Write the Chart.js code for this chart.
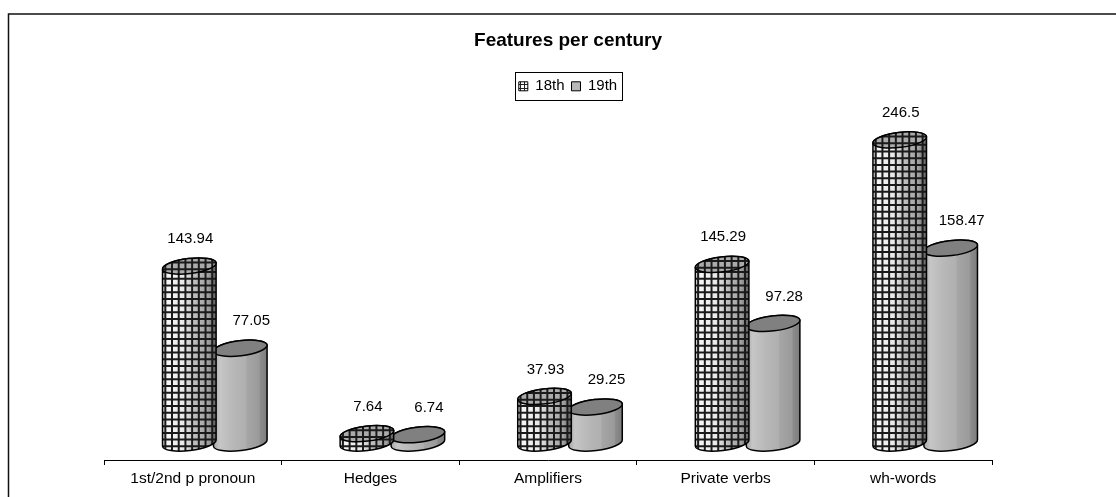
<!DOCTYPE html>
<html>
<head>
<meta charset="utf-8">
<style>
html, body { margin: 0; padding: 0; background: #fff; }
#wrap { width: 1116px; height: 497px; }
</style>
<script src="https://cdn.jsdelivr.net/npm/chart.js@4"></script>
</head>
<body>
<div id="wrap"><canvas id="features-chart"></canvas></div>
<script>
var categories = ["1st/2nd p pronoun", "Hedges", "Amplifiers", "Private verbs", "wh-words"];
var seriesNames = ["18th", "19th"];
var values18th = [143.94, 7.64, 37.93, 145.29, 246.5];
var values19th = [77.05, 6.74, 29.25, 97.28, 158.47];

// The cylinders stand on a floor set back from the axis.
var depthX = 22, depthY = 17;
var fontName = "'Liberation Sans', Arial, sans-serif";

function legendPattern() {
	var c = document.createElement("canvas");
	c.width = 4; c.height = 4;
	var p = c.getContext("2d");
	p.fillStyle = "#fff"; p.fillRect(0, 0, 4, 4);
	p.fillStyle = "#222"; p.fillRect(0, 0, 4, 1); p.fillRect(0, 0, 1, 4);
	return document.getElementById("features-chart").getContext("2d").createPattern(c, "repeat");
}

function bandGradient(ctx, x0, x1, stops) {
	var g = ctx.createLinearGradient(x0, 0, x1, 0);
	stops.forEach(function (s) { g.addColorStop(s[0], s[1]); });
	return g;
}

function gridLines(ctx, shape, x0, x1, y0, y1) {
	ctx.save();
	ctx.clip(shape);
	ctx.strokeStyle = "#1a1a1a";
	ctx.lineWidth = 2;
	ctx.beginPath();
	for (var x = x0 + 3; x < x1; x += 6.7) { ctx.moveTo(x, y0); ctx.lineTo(x, y1); }
	for (var y = y1; y > y0; y -= 6.7) { ctx.moveTo(x0, y); ctx.lineTo(x1, y); }
	ctx.stroke();
	ctx.restore();
}

function drawCylinder(ctx, el, hatched) {
	var rx = el.width / 2 + 1.5, ry = 7.5, rot = -0.12;
	var cx = el.x + depthX, top = el.y - depthY, bottom = el.base - depthY;
	var sx = rx * Math.cos(rot), sy = rx * Math.sin(rot);
	var stops = hatched
		? [[0, "#cfcfcf"], [0.1, "#f6f6f6"], [0.4, "#e8e8e8"], [0.6, "#bdbdbd"], [0.85, "#a0a0a0"], [1, "#5c5c5c"]]
		: [[0, "#a6a6a6"], [0.12, "#c6c6c6"], [0.4, "#b6b6b6"], [0.6, "#b0b0b0"], [0.62, "#a6a6a6"], [0.85, "#9a9a9a"], [0.87, "#8c8c8c"], [1, "#7c7c7c"]];

	// body
	var body = new Path2D();
	body.ellipse(cx, bottom, rx, ry, rot, Math.PI, 0, true);
	body.lineTo(cx + sx, top + sy);
	body.ellipse(cx, top, rx, ry, rot, 0, Math.PI, true);
	body.closePath();
	ctx.fillStyle = bandGradient(ctx, cx - rx, cx + rx, stops);
	ctx.fill(body);
	if (hatched) gridLines(ctx, body, cx - rx, cx + rx, top - 10, bottom + 10);
	ctx.strokeStyle = "#000";
	ctx.lineWidth = 1.5;
	ctx.stroke(body);

	// lid
	var lid = new Path2D();
	lid.ellipse(cx, top, rx, ry, rot, 0, Math.PI * 2);
	ctx.fillStyle = hatched ? "#ababab" : "#808080";
	ctx.fill(lid);
	if (hatched) gridLines(ctx, lid, cx - rx, cx + rx, top - 10, top + 10);
	ctx.strokeStyle = "#000";
	ctx.lineWidth = 1.5;
	ctx.stroke(lid);
}

var cylinderPlugin = {
	id: "cylinders",
	beforeDraw: function (chart) {
		var ctx = chart.ctx;
		ctx.save();
		ctx.fillStyle = "#fff";
		ctx.fillRect(0, 0, chart.width, chart.height);
		// outer frame, cut off by the picture on the right and at the bottom
		ctx.strokeStyle = "#111";
		ctx.lineWidth = 1.5;
		ctx.beginPath();
		ctx.moveTo(8.5, 497);
		ctx.lineTo(8.5, 14);
		ctx.lineTo(1116, 14);
		ctx.stroke();
		// legend box
		var boxes = chart.legend.legendHitBoxes;
		var a = boxes[0], b = boxes[boxes.length - 1];
		ctx.strokeStyle = "#000";
		ctx.lineWidth = 1;
		ctx.strokeRect(Math.round(a.left - 4) + 0.5, Math.round(chart.legend.top) + 0.5, Math.round(b.left + b.width + 5 - (a.left - 4)), 28);
		ctx.restore();
	},
	beforeDatasetDraw: function (chart, args) {
		var meta = chart.getDatasetMeta(args.index);
		meta.data.forEach(function (el) { drawCylinder(chart.ctx, el, args.index === 0); });
		return false;
	},
	afterDatasetsDraw: function (chart) {
		var ctx = chart.ctx;
		ctx.save();
		ctx.font = "15px " + fontName;
		ctx.fillStyle = "#000";
		ctx.textAlign = "center";
		ctx.textBaseline = "middle";
		chart.data.datasets.forEach(function (ds, i) {
			chart.getDatasetMeta(i).data.forEach(function (el, j) {
				ctx.fillText(String(ds.data[j]), el.x + depthX + (i === 0 ? 1 : 11), el.y - depthY - 27);
			});
		});
		ctx.restore();
	}
};

new Chart(document.getElementById("features-chart"), {
	type: "bar",
	data: {
		labels: categories,
		datasets: [
			{ label: seriesNames[0], data: values18th, backgroundColor: legendPattern(), borderColor: "#000", borderWidth: 1 },
			{ label: seriesNames[1], data: values19th, backgroundColor: "#b8b8b8", borderColor: "#000", borderWidth: 1 }
		]
	},
	plugins: [cylinderPlugin],
	options: {
		responsive: true,
		maintainAspectRatio: false,
		animation: false,
		layout: { padding: { left: 20, right: 0, top: 0, bottom: 0 } },
		datasets: { bar: { categoryPercentage: 0.574, barPercentage: 1 } },
		plugins: {
			tooltip: { enabled: false },
			title: {
				display: true,
				text: "Features per century",
				color: "#000",
				font: { family: fontName, size: 19, weight: "bold" },
				padding: { top: 29, bottom: 20 }
			},
			legend: {
				display: true,
				position: "top",
				labels: {
					color: "#000",
					boxWidth: 9,
					boxHeight: 9,
					padding: 7,
					font: { family: fontName, size: 15 }
				}
			}
		},
		scales: {
			x: {
				border: { color: "#000", width: 1 },
				grid: { drawOnChartArea: false, drawTicks: true, tickLength: 5, color: "#000", offset: true },
				ticks: { color: "#000", padding: 4, maxRotation: 0, font: { family: fontName, size: 15.5 } },
				afterFit: function (s) { s.height = 37; }
			},
			y: {
				min: 0,
				max: 289.7,
				ticks: { display: false },
				grid: { display: false },
				border: { display: false },
				afterFit: function (s) { s.width = 84; }
			},
			y2: {
				position: "right",
				display: true,
				ticks: { display: false },
				grid: { display: false },
				border: { display: false },
				afterFit: function (s) { s.width = 124; }
			}
		}
	}
});
</script>
</body>
</html>
